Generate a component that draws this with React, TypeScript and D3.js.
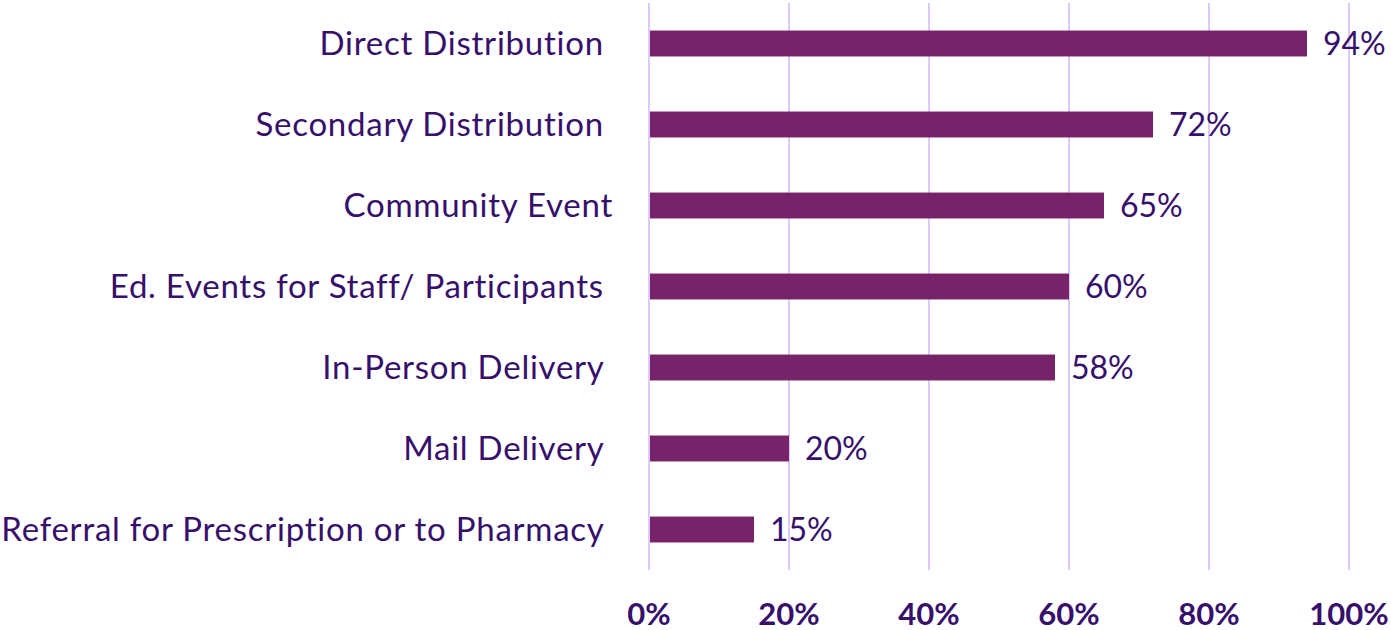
import React from "react";
import * as d3 from "d3";

const categories = [
  "Direct Distribution ",
  "Secondary Distribution ",
  "Community Event",
  "Ed. Events for Staff/ Participants ",
  "In-Person Delivery ",
  "Mail Delivery ",
  "Referral for Prescription or to Pharmacy ",
];
const values = [0.94, 0.72, 0.65, 0.6, 0.58, 0.2, 0.15];
const ticks = [0, 0.2, 0.4, 0.6, 0.8, 1.0];

const W = 1391;
const H = 630;
const textColor = "#36106b";
const barColor = "#76236a";
const gridColor = "#dccbfa";
const font = "Lato, 'Noto Sans', sans-serif";

export default function App() {
  const x = d3.scaleLinear().domain([0, 1]).range([649, 1349]);
  const y = d3
    .scaleBand<string>()
    .domain(categories)
    .range([3, 570])
    .paddingInner(0.68)
    .paddingOuter(0.34);
  const fmt = d3.format(".0%");
  return (
    <svg
      width={W}
      height={H}
      style={{ position: "absolute", left: 0, top: 0, background: "#fff" }}
    >
      {ticks.map((t) => (
        <line
          key={"g" + t}
          x1={x(t)}
          x2={x(t)}
          y1={3}
          y2={570}
          stroke={gridColor}
          strokeWidth={2}
        />
      ))}
      {categories.map((c, i) => (
        <g key={c}>
          <rect
            x={x(0) + 1}
            y={y(c)!}
            width={x(values[i]) - x(0) - 1}
            height={y.bandwidth()}
            fill={barColor}
          />
          <text
            x={613}
            y={y(c)! + y.bandwidth() / 2}
            dy="0.36em"
            textAnchor="end"
            fill={textColor}
            fontFamily={font}
            fontSize={33}
            letterSpacing={0.75}
            style={{ whiteSpace: "pre" }}
          >
            {c}
          </text>
          <text
            x={x(values[i]) + 16}
            y={y(c)! + y.bandwidth() / 2}
            dy="0.36em"
            textAnchor="start"
            fill={textColor}
            fontFamily={font}
            fontSize={32}
          >
            {fmt(values[i])}
          </text>
        </g>
      ))}
      {ticks.map((t) => (
        <text
          key={"t" + t}
          x={x(t)}
          y={625}
          textAnchor="middle"
          fill={textColor}
          fontFamily={font}
          fontWeight="bold"
          fontSize={31}
        >
          {fmt(t)}
        </text>
      ))}
    </svg>
  );
}
